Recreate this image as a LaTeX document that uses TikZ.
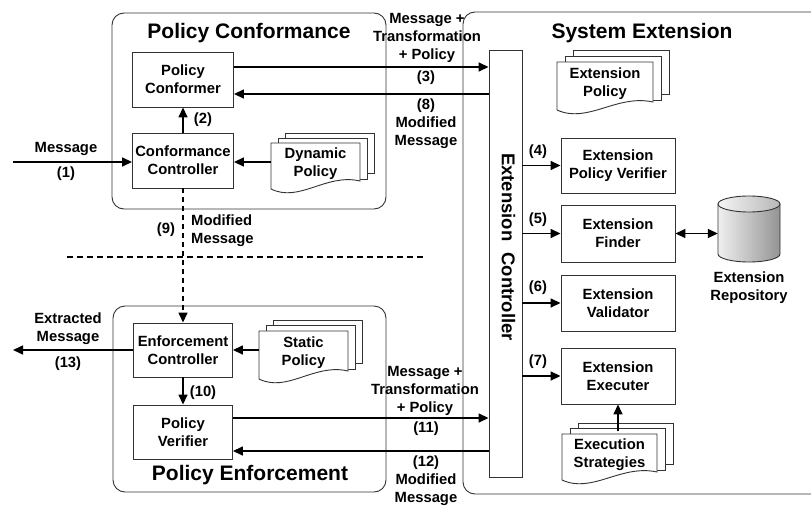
\documentclass[tikz,border=0pt]{standalone}
\usepackage{fontspec}
\setmainfont{Liberation Sans}
\usetikzlibrary{arrows.meta,calc}

% Stack of three document pages; the front page has a wavy bottom.
% #1 name, #2 left, #3 top, #4 right, #5 bottom, #6 dx, #7 dy, #8 text
\newcommand\docstack[8]{%
  \draw[pageline] ({#2+2*#6},{#3-2*#7}) rectangle ({#4+2*#6},{#5-16});
  \draw[pageline] ({#2+#6},{#3-#7}) rectangle ({#4+#6},{#5-10});
  \draw[pageline] (#2,#3) -- (#4,#3) -- (#4,{#5-8})
    .. controls ({#2+0.62*(#4-#2)},{#5-16}) and ({#2+0.32*(#4-#2)},{#5+14}) .. (#2,#5) -- cycle;
  \node[doctext, minimum width={(#4-#2)*1pt}, minimum height={(#5-#3)*1pt}]
    (#1) at ({(#2+#4)/2},{(#3+#5)/2-2.5}) {#8};
}

\tikzset{
  txt/.style={font=\bfseries\fontsize{14.8}{18}\selectfont, align=center, inner sep=0pt},
  blk/.style={txt, draw=black!80, line width=0.9pt},
  doctext/.style={txt},
  pageline/.style={draw=black!80, fill=white, line width=0.9pt},
  group/.style={draw=black!80, line width=0.9pt, rounded corners=12pt},
  grouptitle/.style={font=\bfseries\fontsize{21}{25}\selectfont, inner sep=0pt},
  lbl/.style={txt},
  conn/.style={line width=1.5pt, -{Triangle[length=10pt,width=9pt]}},
  biconn/.style={line width=1.5pt, {Triangle[length=10pt,width=9pt]}-{Triangle[length=10pt,width=9pt]}},
  dashconn/.style={conn, dash pattern=on 5pt off 4pt},
}

\begin{document}
\begin{tikzpicture}[x=1pt, y=-1pt]
\useasboundingbox (0,0) rectangle (811,506);

% ---------- group frames ----------
\draw[group] (112,13) rectangle (386,209);
\draw[group] (113,306) rectangle (386,492);
\draw[group] (813,12) -| (463,494) -- (813,494);

\node[grouptitle] (gtpc) at (249,33) {Policy Conformance};
\node[grouptitle] (gtse) at (642,33) {System Extension};
\node[grouptitle] (gtpe) at (250,475) {Policy Enforcement};

% ---------- policy conformance ----------
\node[blk, minimum width=101pt, minimum height=55pt] (pcf) at (183,79.5) {Policy\\Conformer};
\node[blk, minimum width=101pt, minimum height=55pt] (cctl) at (183,160.5) {Conformance\\Controller};
\docstack{dyn}{271}{143}{360}{189}{7}{5}{Dynamic\\Policy}

% ---------- policy enforcement ----------
\node[blk, minimum width=99pt, minimum height=54pt] (enfc) at (183,350) {Enforcement\\Controller};
\node[blk, minimum width=99pt, minimum height=54pt] (pver) at (183,432) {Policy\\Verifier};
\docstack{stat}{259}{331}{348}{379}{7}{5.5}{Static\\Policy}

% ---------- system extension ----------
\node[draw=black!80, line width=0.9pt, minimum width=33pt, minimum height=427pt, inner sep=0pt]
  (ectl) at (505.5,263.5) {};
\node[font=\bfseries\fontsize{18.5}{22}\selectfont, rotate=-90, inner sep=0pt]
  (ectltext) at (508.5,247) {Extension\hspace{11pt}Controller};
\docstack{extpol}{557}{62}{653}{110}{8}{6}{Extension\\Policy}
\node[blk, minimum width=114pt, minimum height=55pt] (epv) at (618,165.5) {Extension\\Policy Verifier};
\node[blk, minimum width=114pt, minimum height=57pt] (efind) at (618,233.5) {Extension\\Finder};
\node[blk, minimum width=114pt, minimum height=56pt] (eval) at (618,303) {Extension\\Validator};
\node[blk, minimum width=114pt, minimum height=56pt] (eexec) at (618,376) {Extension\\Executer};
\docstack{estrat}{562}{434}{657}{480}{8}{5.5}{Execution\\Strategies}

% repository cylinder
\node[minimum width=62pt, minimum height=66pt, inner sep=0pt] (repo) at (749,229) {};
\draw[draw=black!80, line width=0.9pt, left color=black!6, right color=black!42]
  (718,204) -- (718,254) arc[start angle=180, end angle=360, x radius=31pt, y radius=8pt]
  -- (780,204) -- cycle;
\draw[draw=black!80, line width=0.9pt, left color=black!4, right color=black!28]
  (749,204) ellipse[x radius=31pt, y radius=8pt];
\node[lbl] (repolbl) at (749,288) {Extension\\Repository};

% ---------- free ends and offsets ----------
\coordinate (msgin) at (13,162);
\coordinate (msgout) at (13,350);
\coordinate (dl) at (67,257);
\coordinate (dr) at (425,257);
\coordinate (p3) at ([yshift=12.5pt]pcf.east);
\coordinate (p8) at ([yshift=-14.5pt]pcf.east);
\coordinate (p11) at ([yshift=14pt]pver.east);
\coordinate (p12) at ([yshift=-19pt]pver.east);

% ---------- connectors ----------
\draw[conn] (msgin) -- (msgin -| cctl.west);
\draw[conn] (cctl) -- (pcf);
\draw[conn] (msgin -| dyn.west) -- (msgin -| cctl.east);
\draw[conn] (p3) -- (p3 -| ectl.west);
\draw[conn] (p8 -| ectl.west) -- (p8);
\draw[dashconn] (cctl) -- (enfc);
\draw[dash pattern=on 6pt off 4pt, line width=1.3pt] (dl) -- (dr);
\draw[conn] (enfc) -- (pver);
\draw[conn] (enfc.east -| stat.west) -- (enfc.east);
\draw[conn] (enfc.west) -- (msgout);
\draw[conn] (p11) -- (p11 -| ectl.west);
\draw[conn] (p12 -| ectl.west) -- (p12);
\draw[conn] (epv.west -| ectl.east) -- (epv.west);
\draw[conn] (efind.west -| ectl.east) -- (efind.west);
\draw[conn] (eval.west -| ectl.east) -- (eval.west);
\draw[conn] (eexec.west -| ectl.east) -- (eexec.west);
\draw[biconn] (efind.east) -- (efind.east -| repo.west);
\draw[conn] (eexec.south |- estrat.north) -- (eexec.south);

% ---------- connector labels ----------
\node[lbl] (l1a) at (66,149) {Message};
\node[lbl] (l1b) at (66,174) {(1)};
\node[lbl] (l2) at (203,120) {(2)};
\node[lbl] (l3a) at (427,38) {Message +\\Transformation\\+ Policy};
\node[lbl] (l3b) at (426,78) {(3)};
\node[lbl] (l8) at (426,124) {(8)\\Modified\\Message};
\node[lbl] (l9a) at (166,230) {(9)};
\node[lbl, align=left, anchor=west] (l9b) at (191,231) {Modified\\Message};
\node[lbl] (l10) at (203,393) {(10)};
\node[lbl] (l13a) at (68,329) {Extracted\\Message};
\node[lbl] (l13b) at (68,364) {(13)};
\node[lbl] (l11a) at (425,390.5) {Message +\\Transformation\\+ Policy};
\node[lbl] (l11b) at (426,429) {(11)};
\node[lbl] (l12) at (426,481) {(12)\\Modified\\Message};
\node[lbl] (l4) at (538,152) {(4)};
\node[lbl] (l5) at (538,220) {(5)};
\node[lbl] (l6) at (538,288) {(6)};
\node[lbl] (l7) at (538,362) {(7)};
\end{tikzpicture}
\end{document}
